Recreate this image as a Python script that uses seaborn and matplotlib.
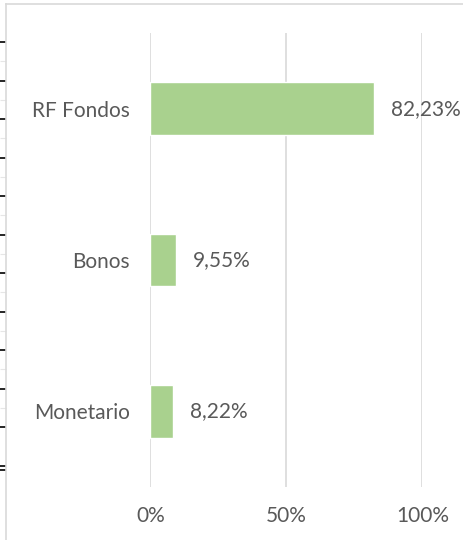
import numpy as np
import pandas as pd
import matplotlib
matplotlib.use('Agg')
import matplotlib.pyplot as plt
import seaborn as sns

# data
categories = ['RF Fondos', 'Bonos', 'Monetario']
values = [82.23, 9.55, 8.22]
x_ticks = [0, 50, 100]
x_tick_labels = ['0%', '50%', '100%']

df = pd.DataFrame({'category': categories, 'value': values})

sns.set_style('white')
plt.rcParams['font.family'] = ['Lato', 'DejaVu Sans']
text_color = '#595959'
grid_color = '#D9D9D9'
bar_color = '#A9D18E'
fs = 15

fig = plt.figure(figsize=(4.64, 5.40), dpi=100)

# outer frame with the cut-off tick marks on the far left
frame = fig.add_axes([6 / 464, 0, 1 - 6 / 464, 1 - 3.5 / 540])
frame.set_xlim(0, 1)
frame.set_ylim(536.5, 0)
for s in ['right', 'bottom']:
    frame.spines[s].set_visible(False)
for s in ['top', 'left']:
    frame.spines[s].set_color(grid_color)
    frame.spines[s].set_linewidth(1.2)
frame.set_xticks([])
frame.set_yticks(list(np.arange(38.5, 430, 38.5)) + [462.5, 466.5])
frame.set_yticks(list(np.arange(57.75, 440, 38.5)), minor=True)
frame.tick_params(axis='y', which='major', direction='out', length=4.3,
                  width=1.2, color='black', left=True, labelleft=False)
frame.tick_params(axis='y', which='minor', direction='out', length=4.3,
                  width=0.8, color='#E6E6E6', left=True, labelleft=False)
frame.patch.set_alpha(0)

ax = fig.add_axes([150.5 / 464, 1 - 487 / 540, 272 / 464, 454 / 540])
sns.barplot(data=df, x='value', y='category', color=bar_color, width=0.35,
            saturation=1, ax=ax, zorder=3)
ax.set_xlim(0, 100)
ax.set_ylim(2.5, -0.5)
ax.set_xticks(x_ticks)
ax.set_xticklabels(x_tick_labels)
ax.set_xlabel('')
ax.set_ylabel('')
ax.grid(axis='x', color=grid_color, linewidth=1.2, zorder=0)
ax.grid(axis='y', visible=False)
for s in ax.spines.values():
    s.set_visible(False)
ax.tick_params(axis='x', length=0, pad=14, labelsize=fs, labelcolor=text_color)
ax.tick_params(axis='y', length=0, pad=15, labelsize=fs, labelcolor=text_color)
ax.patch.set_alpha(0)

for bar, v in zip(ax.patches, values):
    ax.annotate(f'{v:.2f}%'.replace('.', ','),
                (bar.get_width(), bar.get_y() + bar.get_height() / 2),
                xytext=(12, 0), textcoords='offset points',
                ha='left', va='center', fontsize=fs, color=text_color)

fig.savefig('out.png', dpi=100)
